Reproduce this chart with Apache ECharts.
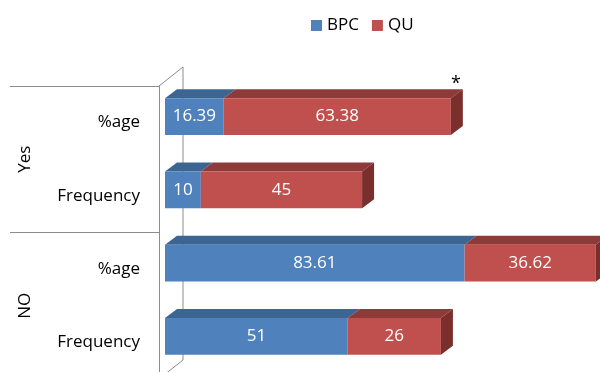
<!DOCTYPE html>
<html>
<head>
<meta charset="utf-8">
<script src="https://cdn.jsdelivr.net/npm/echarts@6/dist/echarts.min.js"></script>
<style>
  html, body { margin: 0; padding: 0; background: #fff; }
  #chart { width: 600px; height: 372px; }
</style>
</head>
<body>
<div id="chart"></div>
<script>
// Categories, top to bottom
const rowLabels = ['%age', 'Frequency', '%age', 'Frequency'];
const groupLabels = ['Yes', 'NO'];
// Series values
const bpcValues = [16.39, 10, 83.61, 51];
const quValues = [63.38, 45, 36.62, 26];
// Note marks shown above the end of a bar
const quNotes = ['*', '', '', ''];

const font = 'Open Sans';

// 3D look: front face is shifted from the category centre, top/side faces go back by depth
const frontShift = [6, -6];
const depth = [12, -9];

// Build [start, end, row, value] for a stacked segment
function segments(starts, values) {
    return values.map((v, i) => [starts[i], starts[i] + v, i, v]);
}

function barRenderer(colors, isLast, notes) {
    return function (params, api) {
        const s = api.coord([api.value(0), api.value(2)]);
        const e = api.coord([api.value(1), api.value(2)]);
        const band = api.size([0, 1])[1];
        const h = band * 0.505;
        const x0 = s[0] + frontShift[0];
        const x1 = e[0] + frontShift[0];
        const yTop = s[1] + frontShift[1] - h / 2;
        const yBot = yTop + h;
        const dx = depth[0], dy = depth[1];
        const children = [
            {
                type: 'polygon',
                shape: {points: [[x0, yTop], [x0 + dx, yTop + dy], [x1 + dx, yTop + dy], [x1, yTop]]},
                style: {fill: colors.top}
            },
            {
                type: 'rect',
                shape: {x: x0, y: yTop, width: x1 - x0, height: h},
                style: {fill: colors.front}
            },
            {
                type: 'text',
                style: {
                    text: String(api.value(3)),
                    x: (x0 + x1) / 2,
                    y: (yTop + yBot) / 2,
                    align: 'center',
                    verticalAlign: 'middle',
                    fill: '#fff',
                    font: '17px "' + font + '"'
                }
            }
        ];
        if (isLast) {
            children.push({
                type: 'polygon',
                shape: {points: [[x1, yTop], [x1 + dx, yTop + dy], [x1 + dx, yBot + dy], [x1, yBot]]},
                style: {fill: colors.side}
            });
        }
        const note = notes ? notes[params.dataIndex] : '';
        if (note) {
            children.push({
                type: 'text',
                style: {
                    text: note,
                    x: x1 + dx - 7,
                    y: yTop + dy + 4,
                    align: 'center',
                    verticalAlign: 'bottom',
                    fill: '#000',
                    font: '18px "' + font + '"'
                }
            });
        }
        return {type: 'group', children: children};
    };
}

// Back wall and floor edges of the 3D plot area
function wallRenderer(params, api) {
    const c = params.coordSys;
    const wx = 24, wy = -19;
    const style = {stroke: '#8c8c8c', lineWidth: 1};
    return {
        type: 'group',
        children: [
            {type: 'line', shape: {x1: c.x, y1: c.y, x2: c.x + wx, y2: c.y + wy}, style: style},
            {type: 'line', shape: {x1: c.x + wx, y1: c.y + wy, x2: c.x + wx, y2: c.y + c.height + wy}, style: style},
            {type: 'line', shape: {x1: c.x, y1: c.y + c.height, x2: c.x + wx, y2: c.y + c.height + wy}, style: style}
        ]
    };
}

const blue = {front: '#4f81bd', top: '#3c6592', side: '#2f5078'};
const red = {front: '#c0504d', top: '#8e3a38', side: '#7b2f2d'};

const chart = echarts.init(document.getElementById('chart'));

const option = {
    animation: false,
    backgroundColor: '#fff',
    textStyle: {fontFamily: font},
    legend: {
        top: 12,
        left: 306,
        icon: 'rect',
        itemWidth: 11,
        itemHeight: 11,
        itemGap: 13,
        textStyle: {fontSize: 17, color: '#000', fontFamily: font},
        data: ['BPC', 'QU']
    },
    grid: {left: 159, top: 86, width: 430, height: 293, outerBoundsMode: 'none'},
    xAxis: {
        type: 'value',
        min: 0,
        max: 120,
        show: false
    },
    yAxis: [
        {
            type: 'category',
            inverse: true,
            data: rowLabels,
            axisLine: {show: false},
            axisTick: {show: false},
            axisLabel: {
                margin: 19,
                fontSize: 17,
                color: '#000',
                fontFamily: font
            }
        },
        {
            type: 'category',
            inverse: true,
            position: 'left',
            data: groupLabels,
            axisLine: {show: true, lineStyle: {color: '#8c8c8c'}},
            axisTick: {show: true, length: 149, lineStyle: {color: '#8c8c8c'}},
            axisLabel: {
                rotate: 90,
                margin: 125,
                fontSize: 17,
                color: '#000',
                fontFamily: font
            }
        }
    ],
    series: [
        {
            name: 'wall',
            type: 'custom',
            renderItem: wallRenderer,
            data: [[0, 0]],
            encode: {x: 0, y: 1},
            silent: true,
            z: 1
        },
        {
            name: 'BPC',
            type: 'custom',
            renderItem: barRenderer(blue, false, null),
            itemStyle: {color: blue.front},
            data: segments([0, 0, 0, 0], bpcValues),
            encode: {x: [0, 1], y: 2},
            clip: false,
            z: 3
        },
        {
            name: 'QU',
            type: 'custom',
            renderItem: barRenderer(red, true, quNotes),
            itemStyle: {color: red.front},
            data: segments(bpcValues, quValues),
            encode: {x: [0, 1], y: 2},
            clip: false,
            z: 3
        }
    ]
};

chart.setOption(option);
</script>
</body>
</html>
